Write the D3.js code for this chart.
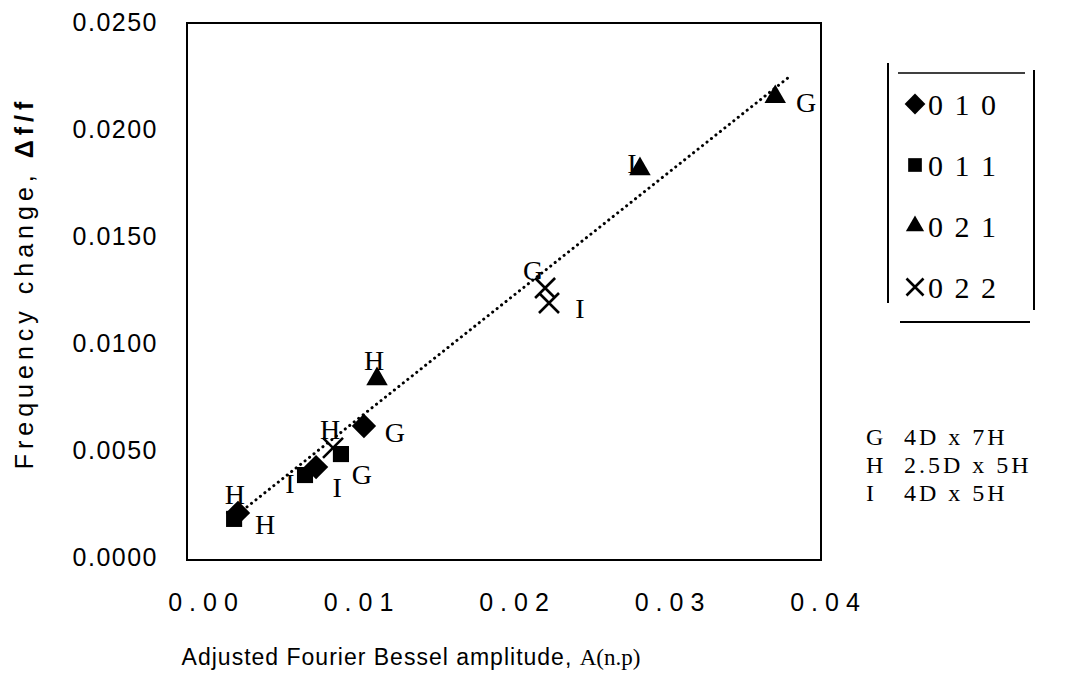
<!DOCTYPE html>
<html><head><meta charset="utf-8">
<script src="https://cdn.jsdelivr.net/npm/d3@7"></script>
<style>body{margin:0;background:#fff}svg{display:block}</style>
</head><body>
<svg id="c" width="1068" height="689"></svg>
<script>
// ---- data ----
const xTicks = [0, 0.01, 0.02, 0.03, 0.04];
const xTickLabels = ["0.00", "0.01", "0.02", "0.03", "0.04"];
const yTicks = [0, 0.005, 0.010, 0.015, 0.020, 0.025];
const yTickLabels = ["0.0000", "0.0050", "0.0100", "0.0150", "0.0200", "0.0250"];
const seriesNames = ["0 1 0", "0 1 1", "0 2 1", "0 2 2"];

const s010X = [0.01035, 0.00225, 0.00727];
const s010Y = [0.00612, 0.00206, 0.00420];
const s010Labels = ["G", "H", "I"];

const s011X = [0.00887, 0.00200, 0.00656];
const s011Y = [0.00481, 0.00178, 0.00383];
const s011Labels = ["G", "H", "I"];

const s021X = [0.03680, 0.01119, 0.02810];
const s021Y = [0.02150, 0.00832, 0.01813];
const s021Labels = ["G", "H", "I"];

const s022X = [0.02200, 0.00836, 0.02225];
const s022Y = [0.01257, 0.00510, 0.01187];
const s022Labels = ["G", "H", "I"];

const trendX = [0.00283, 0.03760];
const trendY = [0.00234, 0.02238];

const configLetters = ["G", "H", "I"];
const configText = ["4D x 7H", "2.5D x 5H", "4D x 5H"];

const xTitle = "Adjusted Fourier Bessel amplitude, ";
const xTitleTail = "A(n.p)";
const yTitle = "Frequency change, ";
const yTitleTail = "Δf/f";

// label placement keywords (per series, per point)
const labelPlace = [
  ["right", "above", "belowRight"],
  ["belowRight", "right", "left"],
  ["right", "above", "leftOver"],
  ["aboveLeft", "above", "right"]
];

// ---- layout ----
const svg = d3.select("#c");
const frame = {l: 187, t: 23, r: 821, b: 560};
const x = d3.scaleLinear().domain([0, 0.04]).range([203, 825]);
const y = d3.scaleLinear().domain([0, 0.025]).range([557, 22]);

svg.append("rect").attr("x", frame.l).attr("y", frame.t)
  .attr("width", frame.r - frame.l).attr("height", frame.b - frame.t)
  .attr("fill", "none").attr("stroke", "#000").attr("stroke-width", 2);

// axes (labels only)
const xAxis = d3.axisBottom(x).tickValues(xTicks).tickSize(0)
  .tickFormat((d, i) => xTickLabels[i]);
const gx = svg.append("g").attr("transform", `translate(3,${frame.b + 30})`).call(xAxis);
gx.select(".domain").remove();
gx.selectAll("text").attr("font-family", "Liberation Sans, Arial, sans-serif")
  .attr("font-size", 25).attr("letter-spacing", "7px").attr("fill", "#000").attr("dy", "0.71em");

const yAxis = d3.axisLeft(y).tickValues(yTicks).tickSize(0)
  .tickFormat((d, i) => yTickLabels[i]);
const gy = svg.append("g").attr("transform", `translate(${frame.l - 26},0)`).call(yAxis);
gy.select(".domain").remove();
gy.selectAll("text").attr("font-family", "Liberation Sans, Arial, sans-serif")
  .attr("font-size", 25).attr("letter-spacing", "1.5px").attr("fill", "#000");

// trendline
svg.append("line")
  .attr("x1", x(trendX[0])).attr("y1", y(trendY[0]))
  .attr("x2", x(trendX[1])).attr("y2", y(trendY[1]))
  .attr("stroke", "#000").attr("stroke-width", 3)
  .attr("stroke-linecap", "round").attr("stroke-dasharray", "0.1,5.6");

// markers
const markerShapes = [
  d3.symbol().type(d3.symbolDiamond2).size(380),
  d3.symbol().type(d3.symbolSquare2).size(330),
  d3.symbol().type(d3.symbolTriangle2).size(330),
  null
];
function drawMarker(g, k, cx, cy, s) {
  if (k === 3) {
    const h = 10 * s;
    g.append("path")
      .attr("d", `M${cx - h},${cy - h}L${cx + h},${cy + h}M${cx - h},${cy + h}L${cx + h},${cy - h}`)
      .attr("stroke", "#000").attr("stroke-width", 2.6).attr("fill", "none");
  } else {
    g.append("path").attr("d", markerShapes[k]())
      .attr("transform", `translate(${cx},${cy}) scale(${s})`)
      .attr("fill", "#000");
  }
}

const series = [
  {xs: s010X, ys: s010Y, ls: s010Labels},
  {xs: s011X, ys: s011Y, ls: s011Labels},
  {xs: s021X, ys: s021Y, ls: s021Labels},
  {xs: s022X, ys: s022Y, ls: s022Labels}
];
const offsets = {
  right: [31, 6], above: [-3, -18], belowRight: [21, 20], left: [-15, 8],
  leftOver: [-8, -6], aboveLeft: [-12, -18]
};
const gm = svg.append("g");
const gl = svg.append("g");
series.forEach((s, k) => {
  s.xs.forEach((vx, i) => {
    const cx = x(vx), cy = y(s.ys[i]);
    drawMarker(gm, k, cx, cy, 1);
    const o = offsets[labelPlace[k][i]];
    gl.append("text").attr("x", cx + o[0]).attr("y", cy + o[1])
      .attr("text-anchor", "middle").attr("dominant-baseline", "central")
      .attr("font-family", "Liberation Serif, Times New Roman, serif")
      .attr("font-size", 28).attr("fill", "#000").text(s.ls[i]);
  });
});

// legend
const lg = svg.append("g");
lg.append("line").attr("x1", 888).attr("y1", 63).attr("x2", 888).attr("y2", 303).attr("stroke", "#000").attr("stroke-width", 2);
lg.append("line").attr("x1", 1034).attr("y1", 70).attr("x2", 1034).attr("y2", 310).attr("stroke", "#000").attr("stroke-width", 2);
lg.append("line").attr("x1", 898).attr("y1", 73).attr("x2", 1025).attr("y2", 73).attr("stroke", "#000").attr("stroke-width", 1.5);
lg.append("line").attr("x1", 900).attr("y1", 322).attr("x2", 1030).attr("y2", 322).attr("stroke", "#000").attr("stroke-width", 2);
seriesNames.forEach((n, k) => {
  const cy = 104 + k * 61;
  drawMarker(lg, k, 915, cy, 0.85);
  lg.append("text").attr("x", 928).attr("y", cy).attr("dominant-baseline", "central")
    .attr("font-family", "Liberation Serif, Times New Roman, serif")
    .attr("font-size", 30).attr("letter-spacing", "2px").attr("fill", "#000").text(n);
});

// configuration key
configLetters.forEach((c, i) => {
  const cy = 437 + i * 28;
  const t = svg.append("text").attr("x", 866).attr("y", cy).attr("dominant-baseline", "central")
    .attr("font-family", "Liberation Serif, Times New Roman, serif")
    .attr("font-size", 24).attr("letter-spacing", "3px").attr("fill", "#000");
  t.append("tspan").text(c);
  t.append("tspan").attr("x", 904).text(configText[i]);
});

// axis titles
const xt = svg.append("text").attr("x", 411).attr("y", 665).attr("text-anchor", "middle")
  .attr("font-family", "Liberation Sans, Arial, sans-serif").attr("font-size", 23)
  .attr("letter-spacing", "1px").attr("fill", "#000");
xt.append("tspan").text(xTitle);
xt.append("tspan").attr("font-family", "Liberation Serif, Times New Roman, serif").attr("letter-spacing", "0px").text(xTitleTail);

const yt = svg.append("text").attr("transform", "translate(33,283) rotate(-90)").attr("text-anchor", "middle")
  .attr("font-family", "Liberation Sans, Arial, sans-serif").attr("font-size", 25)
  .attr("letter-spacing", "5px").attr("fill", "#000");
yt.append("tspan").text(yTitle);
yt.append("tspan").attr("font-weight", "bold").text(yTitleTail);
</script>
</body></html>
